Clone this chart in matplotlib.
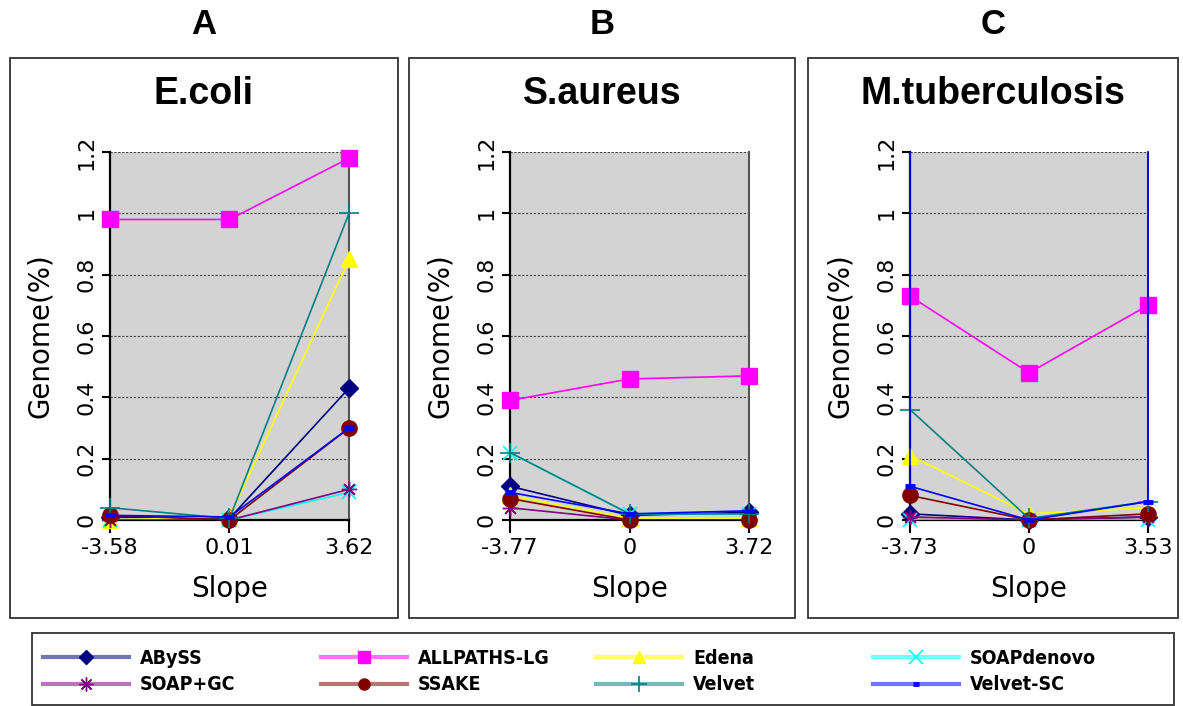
import matplotlib
matplotlib.use('Agg')
import matplotlib.pyplot as plt
from matplotlib.lines import Line2D
from matplotlib.patches import Rectangle
from matplotlib.colors import to_rgba
from matplotlib.transforms import Bbox, TransformedBbox

# assemblers in legend (row-major) order
assemblers = ['ABySS', 'ALLPATHS-LG', 'Edena', 'SOAPdenovo',
              'SOAP+GC', 'SSAKE', 'Velvet', 'Velvet-SC']
colors = ['#000080', '#ff00ff', '#ffff00', '#00ffff',
          '#800080', '#800000', '#008080', '#0000ff']

panel_letters = ['A', 'B', 'C']
organisms = ['E.coli', 'S.aureus', 'M.tuberculosis']
slope_labels = [['-3.58', '0.01', '3.62'],
                ['-3.77', '0', '3.72'],
                ['-3.73', '0', '3.53']]
yticks = [0, 0.2, 0.4, 0.6, 0.8, 1.0, 1.2]
ytick_labels = ['0', '0.2', '0.4', '0.6', '0.8', '1', '1.2']

# genome % per slope, one list per assembler
ecoli = {
    'ABySS': [0.01, 0.005, 0.43],
    'ALLPATHS-LG': [0.98, 0.98, 1.18],
    'Edena': [0.0, 0.01, 0.85],
    'SOAPdenovo': [0.0, 0.0, 0.09],
    'SOAP+GC': [0.0, 0.0, 0.10],
    'SSAKE': [0.015, 0.0, 0.30],
    'Velvet': [0.04, 0.005, 1.0],
    'Velvet-SC': [0.015, 0.01, 0.30],
}
saureus = {
    'ABySS': [0.11, 0.015, 0.025],
    'ALLPATHS-LG': [0.39, 0.46, 0.47],
    'Edena': [0.08, 0.005, 0.005],
    'SOAPdenovo': [0.22, 0.02, 0.02],
    'SOAP+GC': [0.04, 0.0, 0.0],
    'SSAKE': [0.07, 0.0, 0.0],
    'Velvet': [0.22, 0.02, 0.02],
    'Velvet-SC': [0.09, 0.02, 0.03],
}
mtb = {
    'ABySS': [0.02, 0.0, 0.01],
    'ALLPATHS-LG': [0.73, 0.48, 0.70],
    'Edena': [0.21, 0.02, 0.04],
    'SOAPdenovo': [0.0, 0.0, 0.0],
    'SOAP+GC': [0.01, 0.0, 0.01],
    'SSAKE': [0.08, 0.0, 0.02],
    'Velvet': [0.36, 0.005, 0.06],
    'Velvet-SC': [0.11, 0.0, 0.06],
}
# Velvet-SC in M.tuberculosis shoots off the scale at both ends
mtb_velvet_sc_x = [0, 0, 1, 2, 2]
mtb_velvet_sc_y = [1.5, 0.11, 0.0, 0.06, 1.5]

datasets = [ecoli, saureus, mtb]

marker_style = {
    'ABySS': dict(marker='D', ms=9),
    'ALLPATHS-LG': dict(marker='s', ms=11),
    'Edena': dict(marker='^', ms=11),
    'SOAPdenovo': dict(marker='x', ms=10, mew=1.2),
    'SOAP+GC': dict(marker=(8, 2, 0), ms=11, mew=1.0),
    'SSAKE': dict(marker='o', ms=11),
    'Velvet': dict(marker='+', ms=14, mew=1.2),
    'Velvet-SC': dict(marker='_', ms=7, mew=3.5),
}
legend_ms = {'ABySS': 7, 'ALLPATHS-LG': 9, 'Edena': 9, 'SOAPdenovo': 10,
             'SOAP+GC': 10, 'SSAKE': 8, 'Velvet': 12, 'Velvet-SC': 5}

W, H = 1183, 706
fig = plt.figure(figsize=(W / 100, H / 100), dpi=100)


def fx(px):
    return px / W


def fy(py):
    return 1 - py / H


boxes = [(10, 398), (409, 795), (808, 1178)]
axes_x = [(110, 349), (510, 749), (910, 1148)]
ax_top, ax_bot = 152, 520

for k in range(3):
    bx0, bx1 = boxes[k]
    fig.add_artist(Rectangle((fx(bx0), fy(618)), fx(bx1 - bx0), (618 - 58) / H,
                             transform=fig.transFigure, fill=False,
                             ec='#333333', lw=1.3))
    cx = fx((bx0 + bx1) / 2)
    fig.text(cx, fy(25), panel_letters[k], ha='center', va='center',
             fontsize=25, fontweight='bold', family='Liberation Sans')
    fig.text(cx, fy(94), organisms[k], ha='center', va='center',
             fontsize=27, fontweight='bold', family='Liberation Sans')

    x0, x1 = axes_x[k]
    ax = fig.add_axes([fx(x0), fy(ax_bot), fx(x1 - x0), (ax_bot - ax_top) / H])
    ax.set_facecolor('#d3d3d3')
    # let lines sitting on the left/right edges show in full width
    clip = TransformedBbox(Bbox([[-0.03, 0], [1.03, 1]]), ax.transAxes)
    data = datasets[k]
    for i, name in enumerate(assemblers):
        xs = [0, 1, 2]
        ys = data[name]
        if k == 2 and name == 'Velvet-SC':
            xs, ys = mtb_velvet_sc_x, mtb_velvet_sc_y
        z = 3 + i * 0.1
        line, = ax.plot(xs, ys, color=colors[i], lw=1.2, zorder=z)
        line.set_clip_box(clip)
        pts = [(x, y) for x, y in zip(xs, ys) if y <= 1.2]
        ax.plot([p[0] for p in pts], [p[1] for p in pts], ls='none',
                color=colors[i], clip_on=False, zorder=z + 0.05,
                **marker_style[name])

    ax.set_xlim(0, 2)
    ax.set_ylim(0, 1.2)
    ax.set_xticks([0, 1, 2])
    ax.set_xticklabels(slope_labels[k], fontsize=16)
    ax.set_yticks(yticks)
    ax.set_yticklabels(ytick_labels, rotation=90, va='center', fontsize=16)
    ax.yaxis.grid(True, color='#444444', ls=(0, (2, 1.5)), lw=0.8)
    ax.set_axisbelow(True)
    ax.tick_params(axis='x', direction='out', length=9, width=1.5, pad=4)
    ax.tick_params(axis='y', direction='out', length=6, width=1.5, pad=4)
    ax.spines['top'].set_visible(False)
    ax.spines['left'].set_linewidth(1.6)
    ax.spines['bottom'].set_linewidth(1.6)
    ax.spines['right'].set_color('#555555')
    ax.spines['right'].set_linewidth(1.5)
    ax.set_xlabel('Slope', fontsize=20, labelpad=12)
    ax.set_ylabel('Genome(%)', fontsize=20, labelpad=16)

# legend frame
fig.add_artist(Rectangle((fx(32), fy(705)), fx(1174 - 32), (705 - 633) / H,
                         transform=fig.transFigure, fill=False,
                         ec='#333333', lw=1.3))

handles = []
for i, name in enumerate(assemblers):
    st = dict(marker_style[name])
    st['ms'] = legend_ms[name]
    handles.append(Line2D([], [], color=to_rgba(colors[i], 0.55), lw=3,
                          mfc=colors[i], mec=colors[i], **st))

col_x = [43, 321, 596, 873]
for j in range(4):
    hs = [handles[j], handles[j + 4]]
    labs = [assemblers[j], assemblers[j + 4]]
    fig.legend(hs, labs, loc='center left', bbox_to_anchor=(fx(col_x[j]), fy(671.5)),
               frameon=False, handlelength=4.4, handletextpad=0.6,
               labelspacing=0.4, borderpad=0, borderaxespad=0,
               prop=dict(family='DejaVu Sans', weight='bold', size=14,
                         stretch='condensed'))

fig.savefig('out.png', dpi=100)
